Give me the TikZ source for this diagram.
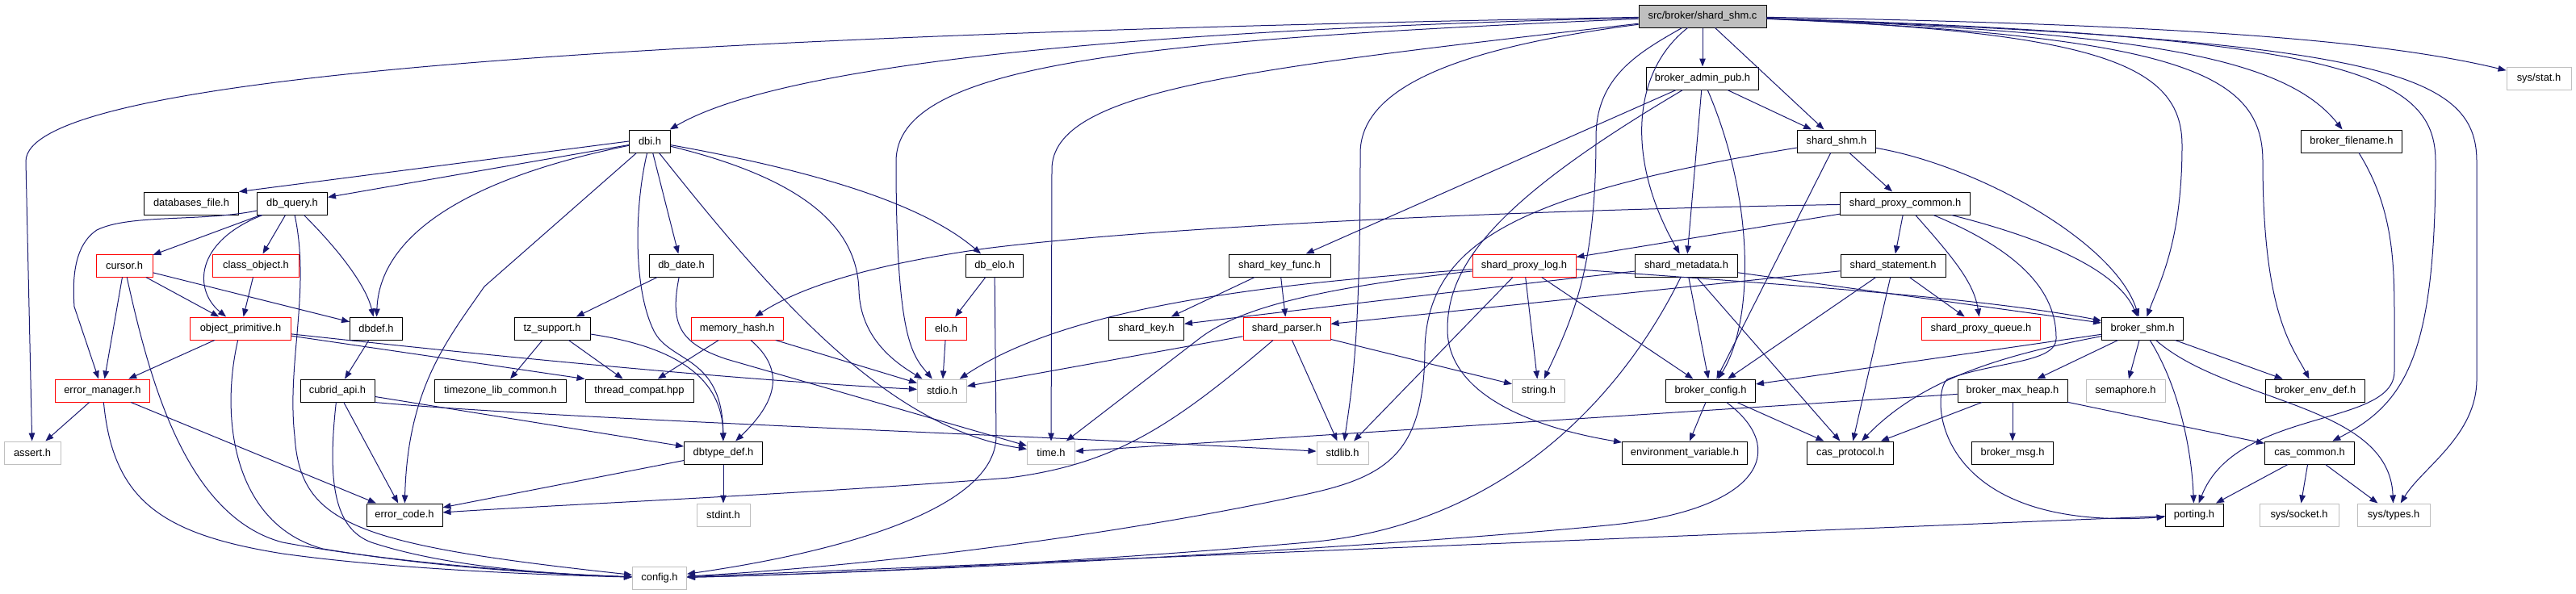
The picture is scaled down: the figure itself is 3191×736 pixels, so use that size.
\documentclass[tikz,border=0pt]{standalone}
\usepackage{fontspec}
\newfontfamily\graphfont{Liberation Sans}
\usetikzlibrary{arrows.meta}

\definecolor{edgeblue}{HTML}{191970}
\definecolor{sysgray}{HTML}{BFBFBF}
\newcommand{\nodefont}{\graphfont\fontsize{12.9}{15}\selectfont}

\begin{document}
\begin{tikzpicture}[
		x=1pt, y=-1pt,
		% Style for the header boxes
		inc/.style={draw=black, fill=white, line width=1pt, minimum height=28pt,
			inner xsep=0pt, inner ysep=0pt, font=\nodefont, text=black},
		inc red/.style={inc, draw=red},
		inc sys/.style={inc, draw=sysgray},
		inc root/.style={inc, fill=sysgray},
		% Connector style
		dep/.style={->, >={Triangle[length=10pt, width=7.5pt]}, draw=edgeblue, line width=1pt}
		]
		\useasboundingbox (0,0) rectangle (3191,736);
		
		% --- 1. Root and upper rows ---
		\node[inc root, minimum width=158pt] (root) at (2109,20) {src/broker/shard\_shm.c};
		\node[inc, minimum width=139pt] (admin) at (2109,97) {broker\_admin\_pub.h};
		\node[inc sys, minimum width=80pt] (sysstat) at (3145,97) {sys/stat.h};
		
		\node[inc, minimum width=51pt] (dbi) at (805,175) {dbi.h};
		\node[inc, minimum width=97pt] (shmh) at (2275,175) {shard\_shm.h};
		\node[inc, minimum width=125pt] (fname) at (2913,175) {broker\_filename.h};
		
		\node[inc, minimum width=117pt] (dbfile) at (237,252) {databases\_file.h};
		\node[inc, minimum width=87pt] (dbquery) at (362,252) {db\_query.h};
		\node[inc, minimum width=161pt] (pcommon) at (2360,252) {shard\_proxy\_common.h};
		
		% --- 2. Middle rows ---
		\node[inc red, minimum width=70pt] (cursor) at (154,329) {cursor.h};
		\node[inc red, minimum width=107pt] (classobj) at (317,329) {class\_object.h};
		\node[inc, minimum width=79pt] (dbdate) at (844,329) {db\_date.h};
		\node[inc, minimum width=71pt] (dbelo) at (1232,329) {db\_elo.h};
		\node[inc, minimum width=126pt] (keyfunc) at (1585,329) {shard\_key\_func.h};
		\node[inc red, minimum width=128pt] (plog) at (1888,329) {shard\_proxy\_log.h};
		\node[inc, minimum width=127pt] (metadata) at (2089,329) {shard\_metadata.h};
		\node[inc, minimum width=130pt] (stmt) at (2345,329) {shard\_statement.h};
		
		\node[inc red, minimum width=125pt] (objprim) at (298,407) {object\_primitive.h};
		\node[inc, minimum width=65pt] (dbdef) at (466,407) {dbdef.h};
		\node[inc, minimum width=94pt] (tzsup) at (684,407) {tz\_support.h};
		\node[inc red, minimum width=114pt] (memhash) at (913,407) {memory\_hash.h};
		\node[inc red, minimum width=51pt] (elo) at (1172,407) {elo.h};
		\node[inc, minimum width=93pt] (shkey) at (1420,407) {shard\_key.h};
		\node[inc red, minimum width=108pt] (parser) at (1594,407) {shard\_parser.h};
		\node[inc red, minimum width=147pt] (pqueue) at (2454,407) {shard\_proxy\_queue.h};
		\node[inc, minimum width=101pt] (bshm) at (2654,407) {broker\_shm.h};
		
		\node[inc red, minimum width=117pt] (errmgr) at (127,484) {error\_manager.h};
		\node[inc, minimum width=92pt] (capi) at (418,484) {cubrid\_api.h};
		\node[inc, minimum width=163pt] (tzlib) at (620,484) {timezone\_lib\_common.h};
		\node[inc, minimum width=134pt] (thcompat) at (792,484) {thread\_compat.hpp};
		\node[inc sys, minimum width=61pt] (stdio) at (1167,484) {stdio.h};
		\node[inc sys, minimum width=65pt] (string) at (1906,484) {string.h};
		\node[inc, minimum width=111pt] (bconfig) at (2119,484) {broker\_config.h};
		\node[inc, minimum width=136pt] (maxheap) at (2493,484) {broker\_max\_heap.h};
		\node[inc sys, minimum width=98pt] (sema) at (2633,484) {semaphore.h};
		\node[inc, minimum width=123pt] (envdef) at (2868,484) {broker\_env\_def.h};
		
		% --- 3. Lower rows ---
		\node[inc sys, minimum width=70pt] (assert) at (40,561) {assert.h};
		\node[inc, minimum width=97pt] (dbtype) at (896,561) {dbtype\_def.h};
		\node[inc sys, minimum width=59pt] (time) at (1302,561) {time.h};
		\node[inc sys, minimum width=64pt] (stdlib) at (1663,561) {stdlib.h};
		\node[inc, minimum width=155pt] (envvar) at (2087,561) {environment\_variable.h};
		\node[inc, minimum width=107pt] (casproto) at (2292,561) {cas\_protocol.h};
		\node[inc, minimum width=101pt] (bmsg) at (2493,561) {broker\_msg.h};
		\node[inc, minimum width=111pt] (cascommon) at (2861,561) {cas\_common.h};
		
		\node[inc, minimum width=94pt] (errcode) at (501,638) {error\_code.h};
		\node[inc sys, minimum width=66pt] (stdint) at (896,638) {stdint.h};
		\node[inc, minimum width=72pt] (porting) at (2718,638) {porting.h};
		\node[inc sys, minimum width=98pt] (syssock) at (2848,638) {sys/socket.h};
		\node[inc sys, minimum width=90pt] (systypes) at (2965,638) {sys/types.h};
		
		\node[inc sys, minimum width=67pt] (config) at (817,716) {config.h};
		
		% --- 4. Includes of shard_shm.c ---
		\draw[dep] (root) .. controls (700,45) and (32,100) .. (32,200) -- (assert);
		\draw[dep] (root) .. controls (1300,40) and (950,90) .. (dbi);
		\draw[dep] (root) .. controls (1400,50) and (1110,80) .. (1110,200) .. controls (1110,420) and (1130,440) .. (stdio);
		\draw[dep] (root) .. controls (1550,85) and (1303,110) .. (1303,210) -- (time);
		\draw[dep] (root) .. controls (1800,60) and (1685,110) .. (1685,190) .. controls (1685,420) and (1675,480) .. (stdlib);
		\draw[dep] (root) .. controls (2030,65) and (1977,95) .. (1977,170) .. controls (1977,330) and (1950,390) .. (string);
		\draw[dep] (root) .. controls (2020,90) and (2015,200) .. (metadata);
		\draw[dep] (root) -- (admin);
		\draw[dep] (root) -- (shmh);
		\draw[dep] (root) .. controls (2600,40) and (2703,80) .. (2703,180) .. controls (2703,300) and (2675,350) .. (bshm);
		\draw[dep] (root) .. controls (2700,45) and (2803,90) .. (2803,200) .. controls (2803,390) and (2840,430) .. (envdef);
		\draw[dep] (root) .. controls (2650,40) and (2830,70) .. (fname);
		\draw[dep] (root) .. controls (2900,45) and (3017,90) .. (3017,200) .. controls (3017,440) and (2980,500) .. (cascommon);
		\draw[dep] (root) .. controls (2950,50) and (3068,90) .. (3068,200) -- (3068,470) .. controls (3068,540) and (3000,580) .. (systypes);
		\draw[dep] (root) .. controls (2700,30) and (2950,50) .. (sysstat);
		
		% --- 5. broker_admin_pub.h, shard_shm.h, broker_filename.h ---
		\draw[dep] (admin) -- (keyfunc);
		\draw[dep] (admin) .. controls (1850,250) and (1792,330) .. (1793,410) .. controls (1795,490) and (1900,530) .. (envvar);
		\draw[dep] (admin) -- (metadata);
		\draw[dep] (admin) .. controls (2175,250) and (2172,400) .. (bconfig);
		\draw[dep] (admin) -- (shmh);
		
		\draw[dep] (shmh) -- (pcommon);
		\draw[dep] (shmh) .. controls (2450,205) and (2620,300) .. (bshm);
		\draw[dep] (shmh) -- (bconfig);
		\draw[dep] (shmh) .. controls (1880,240) and (1770,300) .. (1765,430) .. controls (1765,560) and (1720,590) .. (1620,612) .. controls (1400,660) and (1100,700) .. (config);
		
		\draw[dep] (fname) .. controls (2966,260) and (2966,330) .. (2966,400) -- (2966,460) .. controls (2966,530) and (2770,505) .. (porting);
		
		% --- 6. dbi.h and its children ---
		\draw[dep] (dbi.west) -- (dbfile.north east);
		\draw[dep] (dbi) -- (dbquery);
		\draw[dep] (dbi) .. controls (560,225) and (470,300) .. (dbdef);
		\draw[dep] (dbi) -- (600,355) .. controls (555,420) and (505,480) .. (errcode);
		\draw[dep] (dbi) .. controls (785,260) and (785,360) .. (810,410) .. controls (830,450) and (895,440) .. (dbtype);
		\draw[dep] (dbi) -- (dbdate);
		\draw[dep] (dbi) .. controls (960,370) and (1100,530) .. (time);
		\draw[dep] (dbi) .. controls (1010,225) and (1062,290) .. (1064,360) .. controls (1066,420) and (1110,450) .. (stdio);
		\draw[dep] (dbi) .. controls (1000,210) and (1140,250) .. (dbelo);
		
		\draw[dep] (dbquery) -- (cursor);
		\draw[dep] (dbquery) -- (classobj);
		\draw[dep] (dbquery) .. controls (250,275) and (160,265) .. (120,285) .. controls (90,305) and (90,350) .. (92,380) -- (errmgr);
		\draw[dep] (dbquery) .. controls (240,300) and (240,360) .. (objprim);
		\draw[dep] (dbquery) .. controls (385,360) and (355,450) .. (365,540) .. controls (372,650) and (440,675) .. (config);
		\draw[dep] (dbquery) .. controls (430,320) and (455,360) .. (dbdef);
		
		\draw[dep] (cursor) -- (errmgr);
		\draw[dep] (cursor) -- (objprim);
		\draw[dep] (cursor) -- (dbdef);
		\draw[dep] (cursor) .. controls (185,470) and (230,640) .. (350,672) .. controls (500,700) and (700,712) .. (config);
		\draw[dep] (classobj) -- (objprim);
		
		\draw[dep] (dbdate) -- (tzsup);
		\draw[dep] (dbdate) .. controls (830,400) and (840,425) .. (900,445) -- (time);
		\draw[dep] (dbelo) -- (elo);
		\draw[dep] (dbelo) -- (1234,540) .. controls (1234,640) and (1000,690) .. (config);
		
		% --- 7. Shard headers ---
		\draw[dep] (keyfunc) -- (shkey);
		\draw[dep] (keyfunc) -- (parser);
		
		\draw[dep] (plog) .. controls (1600,350) and (1330,375) .. (stdio);
		\draw[dep] (plog) .. controls (1620,358) and (1530,385) .. (1485,420) -- (time);
		\draw[dep] (plog) -- (stdlib);
		\draw[dep] (plog) -- (string);
		\draw[dep] (plog) -- (bconfig);
		\draw[dep] (plog) .. controls (2200,352) and (2450,368) .. (bshm);
		
		\draw[dep] (metadata) .. controls (1900,350) and (1600,385) .. (shkey);
		\draw[dep] (metadata) .. controls (2020,470) and (1880,650) .. (1620,672) .. controls (1300,700) and (1000,712) .. (config);
		\draw[dep] (metadata) -- (bconfig);
		\draw[dep] (metadata) -- (casproto);
		\draw[dep] (metadata) -- (bshm);
		
		\draw[dep] (stmt) -- (parser);
		\draw[dep] (stmt) -- (bconfig);
		\draw[dep] (stmt) -- (casproto);
		\draw[dep] (stmt) -- (pqueue);
		
		\draw[dep] (pcommon) .. controls (1800,262) and (1400,285) .. (1220,308) .. controls (1100,325) and (1000,350) .. (memhash);
		\draw[dep] (pcommon) -- (plog);
		\draw[dep] (pcommon) -- (stmt);
		\draw[dep] (pcommon) .. controls (2420,320) and (2445,350) .. (pqueue);
		\draw[dep] (pcommon) .. controls (2550,300) and (2625,340) .. (bshm);
		\draw[dep] (pcommon) .. controls (2500,310) and (2548,360) .. (2547,420) .. controls (2546,450) and (2470,448) .. (2412,470) .. controls (2390,490) and (2395,660) .. (porting);
		
		% --- 8. Lower level headers ---
		\draw[dep] (objprim) -- (errmgr);
		\draw[dep] (objprim) .. controls (272,520) and (290,650) .. (400,680) .. controls (550,705) and (700,712) .. (config);
		\draw[dep] (objprim) .. controls (600,440) and (900,470) .. (stdio);
		\draw[dep] (objprim) -- (thcompat.north west);
		\draw[dep] (dbdef) -- (capi);
		
		\draw[dep] (tzsup) -- (tzlib);
		\draw[dep] (tzsup) -- (thcompat);
		\draw[dep] (tzsup) .. controls (840,430) and (895,470) .. (dbtype);
		
		\draw[dep] (memhash) -- (thcompat);
		\draw[dep] (memhash) .. controls (975,460) and (960,500) .. (dbtype);
		\draw[dep] (memhash) -- (stdio);
		\draw[dep] (elo) -- (stdio);
		
		\draw[dep] (parser) -- (stdio);
		\draw[dep] (parser) -- (stdlib);
		\draw[dep] (parser) -- (string);
		\draw[dep] (parser) .. controls (1450,530) and (1380,575) .. (1250,592) .. controls (1000,612) and (700,625) .. (errcode);
		
		\draw[dep] (bshm) -- (bconfig);
		\draw[dep] (bshm) .. controls (2480,440) and (2380,470) .. (casproto);
		\draw[dep] (bshm) -- (maxheap);
		\draw[dep] (bshm) -- (sema);
		\draw[dep] (bshm) .. controls (2700,480) and (2715,560) .. (porting);
		\draw[dep] (bshm) .. controls (2760,500) and (2960,500) .. (systypes);
		\draw[dep] (bshm) -- (envdef);
		
		\draw[dep] (errmgr) -- (assert);
		\draw[dep] (errmgr) -- (errcode);
		\draw[dep] (errmgr) .. controls (140,620) and (200,662) .. (350,686) .. controls (500,707) and (700,713) .. (config);
		
		\draw[dep] (capi) -- (errcode);
		\draw[dep] (capi) .. controls (405,600) and (415,655) .. (460,672) .. controls (560,705) and (700,712) .. (config);
		\draw[dep] (capi) -- (dbtype);
		\draw[dep] (capi.south east) .. controls (700,520) and (1300,540) .. (stdlib);
		
		\draw[dep] (bconfig) -- (envvar);
		\draw[dep] (bconfig) -- (casproto);
		\draw[dep] (bconfig) .. controls (2215,555) and (2185,630) .. (2000,650) .. controls (1700,680) and (1100,710) .. (config);
		
		\draw[dep] (maxheap) -- (bmsg);
		\draw[dep] (maxheap) -- (cascommon);
		\draw[dep] (maxheap) -- (time);
		\draw[dep] (maxheap) -- (casproto);
		
		\draw[dep] (dbtype) -- (stdint);
		\draw[dep] (dbtype) -- (errcode);
		
		\draw[dep] (cascommon) -- (porting);
		\draw[dep] (cascommon) -- (syssock);
		\draw[dep] (cascommon) -- (systypes);
		\draw[dep] (porting) -- (config);
		
	\end{tikzpicture}
\end{document}
